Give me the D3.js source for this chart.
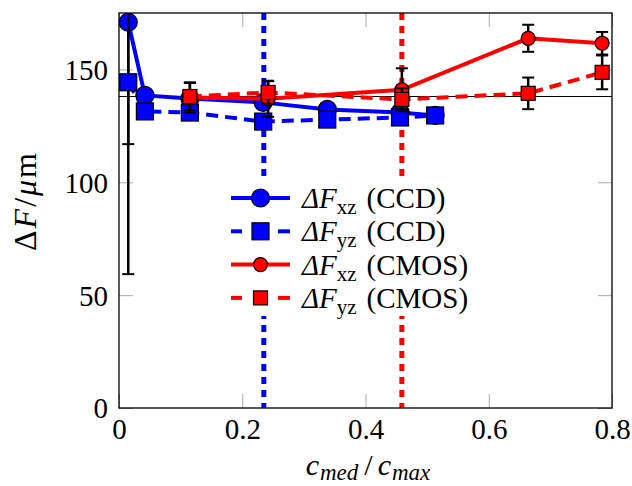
<!DOCTYPE html>
<html><head><meta charset="utf-8">
<script src="https://cdn.jsdelivr.net/npm/d3@7"></script>
<style>body{margin:0;background:#fff}svg{display:block}
svg text{font-family:"Liberation Serif","Times New Roman","DejaVu Serif","Noto Serif",Times,serif !important;}
</style>
</head><body>
<svg id="c" width="632" height="486"></svg>
<script>
// ---- data ----
const ccdXzX   = [0.015, 0.042, 0.115, 0.234, 0.338, 0.456, 0.513];
const ccdXzY   = [170.9, 138.5, 137.1, 135.4, 132.3, 130.9, 129.6];
const ccdXzErr = [54, 0, 0, 0, 0, 0, 0];
const ccdYzX   = [0.015, 0.042, 0.115, 0.234, 0.338, 0.456, 0.513];
const ccdYzY   = [144.3, 131.4, 130.9, 126.9, 127.8, 128.7, 129.6];
const ccdYzErr = [85, 0, 0, 0, 0, 0, 0];
const cmosXzX  = [0.115, 0.242, 0.459, 0.664, 0.784];
const cmosXzY  = [137.6, 137.0, 141.0, 163.8, 161.6];
const cmosXzErr= [6.7, 8, 9.5, 6, 5];
const cmosYzX  = [0.115, 0.242, 0.459, 0.664, 0.784];
const cmosYzY  = [138.0, 139.8, 136.7, 139.4, 148.7];
const cmosYzErr= [6, 5, 5, 7, 7.5];
const refLineY = 138;
const ccdThreshold = 0.235;
const cmosThreshold = 0.459;
const xTicks = [0, 0.2, 0.4, 0.6, 0.8];
const yTicks = [0, 50, 100, 150];
const legendLabels = [["xz","(CCD)"],["yz","(CCD)"],["xz","(CMOS)"],["yz","(CMOS)"]];

const svg = d3.select("#c");
const L = 119, R = 612, T = 13, B = 408;
const x = d3.scaleLinear().domain([0, 0.8]).range([L, R]);
const y = d3.scaleLinear().domain([0, 175]).range([B, T]);

svg.append("defs").append("clipPath").attr("id","clip")
  .append("rect").attr("x",L).attr("y",T).attr("width",R-L).attr("height",B-T);

const tickLen = 14;
const gx = svg.append("g").attr("transform",`translate(0,${B})`)
  .call(d3.axisBottom(x).tickValues(xTicks).tickSize(-tickLen).tickPadding(10)
    .tickFormat(d => d === 0 ? "0" : d3.format(".1f")(d)));
const gxt = svg.append("g").attr("transform",`translate(0,${T})`)
  .call(d3.axisTop(x).tickValues(xTicks).tickSize(-tickLen).tickFormat(""));
const gy = svg.append("g").attr("transform",`translate(${L},0)`)
  .call(d3.axisLeft(y).tickValues(yTicks).tickSize(-tickLen).tickPadding(11));
const gyr = svg.append("g").attr("transform",`translate(${R},0)`)
  .call(d3.axisRight(y).tickValues(yTicks).tickSize(-tickLen).tickFormat(""));
[gx,gxt,gy,gyr].forEach(g => {
  g.attr("font-family", null);
  g.select(".domain").remove();
  g.selectAll(".tick line").attr("stroke","#aaa").attr("stroke-width",1);
  g.selectAll("text").attr("fill","#000").style("font-size","29px");
});
gy.selectAll("text").attr("dy","0.34em");
gx.selectAll("text").attr("dy","0.72em");

const plot = svg.append("g").attr("clip-path","url(#clip)");

plot.append("line").attr("x1",x(ccdThreshold)).attr("x2",x(ccdThreshold)).attr("y1",T).attr("y2",B)
  .attr("stroke","#0000ff").attr("stroke-width",5).attr("stroke-dasharray","7,6");
plot.append("line").attr("x1",x(cmosThreshold)).attr("x2",x(cmosThreshold)).attr("y1",T).attr("y2",B)
  .attr("stroke","#ff0000").attr("stroke-width",5).attr("stroke-dasharray","7,6");
plot.append("line").attr("x1",L).attr("x2",R).attr("y1",y(refLineY)).attr("y2",y(refLineY))
  .attr("stroke","#000").attr("stroke-width",1.2);

function series(xs, ys, errs, color, dashed, shape, size) {
  const pts = xs.map((d,i)=>({x:d, y:ys[i], e:errs[i]}));
  const g = plot.append("g");
  g.append("path").datum(pts)
    .attr("d", d3.line().x(d=>x(d.x)).y(d=>y(d.y)))
    .attr("fill","none").attr("stroke",color).attr("stroke-width",4)
    .attr("stroke-dasharray", dashed ? "12,7" : null);
  pts.filter(d=>d.e>0).forEach(d=>{
    const cx = x(d.x);
    g.append("line").attr("x1",cx).attr("x2",cx).attr("y1",y(d.y-d.e)).attr("y2",y(d.y+d.e))
      .attr("stroke","#000").attr("stroke-width",2.5);
    [d.y-d.e, d.y+d.e].forEach(v=>{
      g.append("line").attr("x1",cx-6).attr("x2",cx+6).attr("y1",y(v)).attr("y2",y(v))
        .attr("stroke","#000").attr("stroke-width",2);
    });
  });
  drawMarkers(g, pts.map(d=>[x(d.x), y(d.y)]), color, shape, size);
}
function drawMarkers(g, coords, color, shape, size) {
  coords.forEach(([cx,cy])=>{
    if (shape === "circle") {
      g.append("circle").attr("cx",cx).attr("cy",cy).attr("r",size)
        .attr("fill",color).attr("stroke","#000").attr("stroke-width",1.2);
    } else {
      g.append("rect").attr("x",cx-size).attr("y",cy-size).attr("width",2*size).attr("height",2*size)
        .attr("fill",color).attr("stroke","#000").attr("stroke-width",1.2);
    }
  });
}
series(ccdXzX, ccdXzY, ccdXzErr, "#0000ff", false, "circle", 9);
series(ccdYzX, ccdYzY, ccdYzErr, "#0000ff", true, "square", 8.5);
series(cmosXzX, cmosXzY, cmosXzErr, "#ff0000", false, "circle", 7);
series(cmosYzX, cmosYzY, cmosYzErr, "#ff0000", true, "square", 7);

svg.append("rect").attr("x",L).attr("y",T).attr("width",R-L).attr("height",B-T)
  .attr("fill","none").attr("stroke","#000").attr("stroke-width",1.3);

const lg = svg.append("g");
lg.append("rect").attr("x",222).attr("y",178).attr("width",262).attr("height",138).attr("fill","#fff");
const styles = [
  ["#0000ff", false, "circle", 9],
  ["#0000ff", true, "square", 8.5],
  ["#ff0000", false, "circle", 7],
  ["#ff0000", true, "square", 7]
];
legendLabels.forEach((lab,i)=>{
  const cy = 198 + i*33.3;
  const [color,dashed,shape,size] = styles[i];
  if (dashed) {
    lg.append("line").attr("x1",231).attr("x2",242).attr("y1",cy).attr("y2",cy).attr("stroke",color).attr("stroke-width",4);
    lg.append("line").attr("x1",278).attr("x2",290).attr("y1",cy).attr("y2",cy).attr("stroke",color).attr("stroke-width",4);
  } else {
    lg.append("line").attr("x1",231).attr("x2",290).attr("y1",cy).attr("y2",cy).attr("stroke",color).attr("stroke-width",4);
  }
  drawMarkers(lg, [[260.5, cy]], color, shape, size);
  const t = lg.append("text").attr("x",302).attr("y",cy+10)
    .style("font-size","29px").attr("fill","#000");
  t.append("tspan").style("font-style","italic").text("ΔF");
  t.append("tspan").attr("dy",6).style("font-size","21px").text(lab[0]);
  t.append("tspan").attr("dy",-6).attr("dx",10).text(lab[1]);
});

const xl = svg.append("text").attr("x",368).attr("y",475).attr("text-anchor","middle")
  .style("font-size","30px").attr("fill","#000");
xl.append("tspan").style("font-style","italic").text("c");
xl.append("tspan").attr("dy",5).attr("dx",1).style("font-size","23px").style("font-style","italic").text("med");
xl.append("tspan").attr("dy",-5).attr("dx",6).text("/");
xl.append("tspan").attr("dx",5).style("font-style","italic").text("c");
xl.append("tspan").attr("dy",5).attr("dx",1).style("font-size","23px").style("font-style","italic").text("max");

const yl = svg.append("text").attr("transform","translate(36,201) rotate(-90)").attr("text-anchor","middle")
  .style("font-size","32px").style("letter-spacing","2px").attr("fill","#000");
yl.append("tspan").text("Δ");
yl.append("tspan").style("font-style","italic").text("F");
yl.append("tspan").text("/");
yl.append("tspan").style("font-style","italic").text("μ");
yl.append("tspan").text("m");
</script>
</body></html>
